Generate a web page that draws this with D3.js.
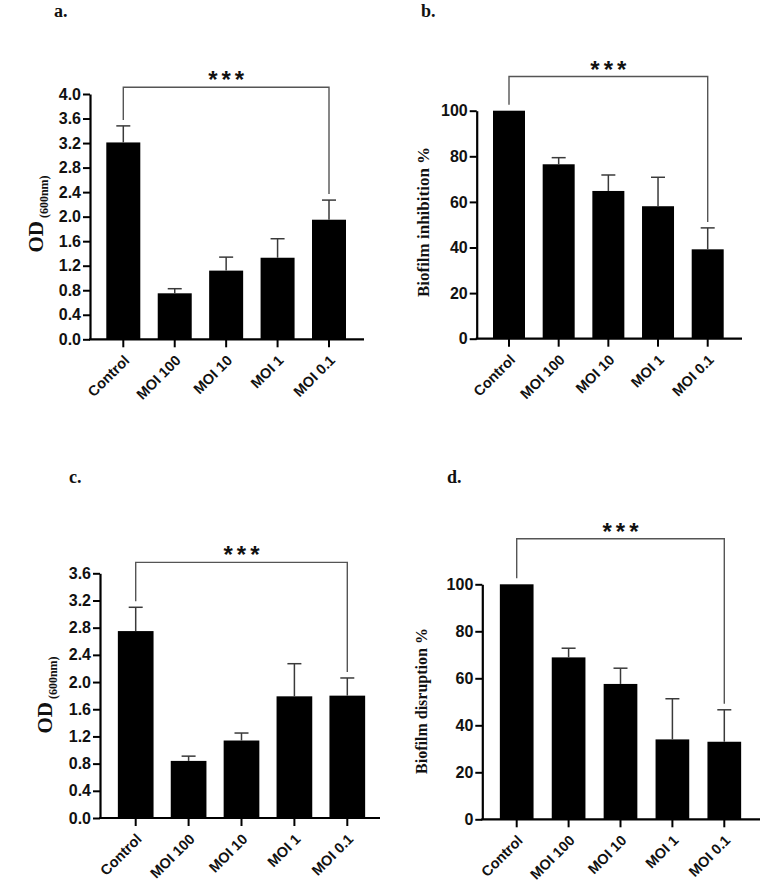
<!DOCTYPE html>
<html><head><meta charset="utf-8">
<script src="https://cdn.jsdelivr.net/npm/d3@7"></script>
<style>
html,body{margin:0;padding:0;background:#fff;}
svg{display:block;}
</style></head>
<body>
<script>
// ---------- DATA ----------
const categories = ["Control", "MOI 100", "MOI 10", "MOI 1", "MOI 0.1"];

// panel a: biofilm formation OD600
const aMeans = [3.21, 0.75, 1.12, 1.33, 1.95];
const aErrs  = [0.27, 0.075, 0.22, 0.31, 0.32];
const aTicks = [0, 0.4, 0.8, 1.2, 1.6, 2.0, 2.4, 2.8, 3.2, 3.6, 4.0];

// panel b: biofilm inhibition %
const bMeans = [100, 76.5, 64.8, 58.1, 39.2];
const bErrs  = [0, 2.9, 7.0, 12.7, 9.4];
const bTicks = [0, 20, 40, 60, 80, 100];

// panel c: biofilm OD600 (disruption)
const cMeans = [2.75, 0.84, 1.14, 1.79, 1.80];
const cErrs  = [0.35, 0.07, 0.11, 0.48, 0.26];
const cTicks = [0, 0.4, 0.8, 1.2, 1.6, 2.0, 2.4, 2.8, 3.2, 3.6];

// panel d: biofilm disruption %
const dMeans = [100, 68.9, 57.6, 34.0, 33.0];
const dErrs  = [0, 3.9, 6.7, 17.3, 13.6];
const dTicks = [0, 20, 40, 60, 80, 100];

const significance = "***";
const panelLabels = ["a.", "b.", "c.", "d."];

// ---------- DRAW ----------
const W = 764, H = 883;
const svg = d3.select("body").append("svg").attr("width", W).attr("height", H);

const SANS = "'Liberation Sans', Arial, sans-serif";
const SERIF = "'Liberation Serif', 'Times New Roman', serif";

function drawPanel(cfg) {
  const g = svg.append("g");
  const f = cfg.frame;
  const y = d3.scaleLinear().domain([0, d3.max(cfg.ticks)]).range([f.y0, f.yTop]);
  const step = (f.c4 - f.c0) / (categories.length - 1);
  const x = d3.scaleBand().domain(categories).range([f.c0 - step / 2, f.c4 + step / 2]);
  const cx = c => x(c) + x.bandwidth() / 2;

  const rows = categories.map((c, i) => ({c, m: cfg.means[i], e: cfg.errs[i]}));

  // bars
  g.selectAll("rect.bar").data(rows).join("rect")
    .attr("class", "bar")
    .attr("x", d => cx(d.c) - f.bw / 2)
    .attr("y", d => y(d.m))
    .attr("width", f.bw)
    .attr("height", d => f.y0 - y(d.m))
    .attr("fill", "#000");

  // error bars (upper only)
  const eb = g.selectAll("g.err").data(rows.filter(d => d.e > 0)).join("g").attr("class", "err")
    .attr("stroke", "#3a3a3a").attr("stroke-width", 1.5);
  eb.append("line").attr("x1", d => cx(d.c)).attr("x2", d => cx(d.c))
    .attr("y1", d => y(d.m)).attr("y2", d => y(d.m + d.e));
  eb.append("line").attr("x1", d => cx(d.c) - 7).attr("x2", d => cx(d.c) + 7)
    .attr("y1", d => y(d.m + d.e)).attr("y2", d => y(d.m + d.e));

  // y axis
  const ya = g.append("g").attr("transform", `translate(${f.ax},0)`)
    .call(d3.axisLeft(y).tickValues(cfg.ticks).tickFormat(cfg.fmt).tickSize(7).tickSizeOuter(0).tickPadding(2));
  ya.select(".domain").attr("stroke", "#000").attr("stroke-width", 2.2);
  ya.selectAll(".tick line").attr("stroke", "#000").attr("stroke-width", 2);
  ya.selectAll(".tick text").attr("font-family", SANS).attr("font-weight", "bold")
    .attr("font-size", 16).attr("fill", "#111");

  // x axis
  g.append("line").attr("x1", f.ax - 1).attr("x2", f.xEnd).attr("y1", f.y0).attr("y2", f.y0)
    .attr("stroke", "#000").attr("stroke-width", 2.2);
  const xa = g.append("g").attr("transform", `translate(0,${f.y0})`)
    .call(d3.axisBottom(x).tickSize(8).tickSizeOuter(0));
  xa.select(".domain").remove();
  xa.selectAll(".tick line").attr("stroke", "#000").attr("stroke-width", 2);
  xa.selectAll(".tick text")
    .attr("font-family", SANS).attr("font-weight", "bold").attr("font-size", 14.5).attr("fill", "#111")
    .attr("x", 0).attr("y", 0).attr("dy", 0)
    .attr("text-anchor", "end")
    .attr("transform", "translate(7,22) rotate(-45)");

  // significance bracket
  const x0 = cx(categories[0]), x4 = cx(categories[categories.length - 1]);
  const top0 = y(cfg.means[0] + cfg.errs[0]) - 6;
  const top4 = y(cfg.means[4] + cfg.errs[4]) - 6;
  const by = y(cfg.bracket);
  g.append("path").attr("d", `M${x0},${top0}V${by}H${x4}V${top4}`)
    .attr("fill", "none").attr("stroke", "#555").attr("stroke-width", 1.4);
  g.append("text").attr("x", (x0 + x4) / 2 + 2).attr("y", by + 1)
    .attr("text-anchor", "middle").attr("font-family", SANS).attr("font-weight", "bold")
    .attr("font-size", 24).attr("letter-spacing", 4).attr("fill", "#111").text(significance);

  // y title
  const t = g.append("text").attr("transform", `translate(${cfg.titleX},${cfg.titleY}) rotate(-90)`)
    .attr("text-anchor", "middle").attr("font-family", SERIF).attr("font-weight", "bold").attr("fill", "#111");
  if (cfg.titleSub) {
    t.append("tspan").attr("font-size", 21).text(cfg.title);
    t.append("tspan").attr("font-size", 12).attr("dy", 5).text(" " + cfg.titleSub);
  } else {
    t.attr("font-size", cfg.titleSize).text(cfg.title);
  }

  // panel label
  svg.append("text").attr("x", cfg.labelX).attr("y", cfg.labelY)
    .attr("font-family", SERIF).attr("font-weight", "bold").attr("font-size", 18).attr("fill", "#111")
    .text(cfg.label);
}

const fmt1 = d3.format(".1f");
const fmt0 = d3.format("d");

drawPanel({
  means: aMeans, errs: aErrs, ticks: aTicks, fmt: fmt1, bracket: 4.11,
  frame: {ax: 90, xEnd: 364, y0: 339.3, yTop: 94, c0: 123.3, c4: 329, bw: 34},
  title: "OD", titleSub: "(600nm)", titleX: 43, titleY: 214,
  label: panelLabels[0], labelX: 54, labelY: 17
});
drawPanel({
  means: bMeans, errs: bErrs, ticks: bTicks, fmt: fmt0, bracket: 115,
  frame: {ax: 476.7, xEnd: 742, y0: 338.7, yTop: 110.7, c0: 509, c4: 707.7, bw: 32},
  title: "Biofilm inhibition %", titleSize: 17, titleX: 429, titleY: 222,
  label: panelLabels[1], labelX: 421, labelY: 17
});
drawPanel({
  means: cMeans, errs: cErrs, ticks: cTicks, fmt: fmt1, bracket: 3.76,
  frame: {ax: 100, xEnd: 380, y0: 818, yTop: 573.3, c0: 135.7, c4: 347.3, bw: 35.7},
  title: "OD", titleSub: "(600nm)", titleX: 51.5, titleY: 695,
  label: panelLabels[2], labelX: 69, labelY: 483
});
drawPanel({
  means: dMeans, errs: dErrs, ticks: dTicks, fmt: fmt0, bracket: 119.4,
  frame: {ax: 482.3, xEnd: 760, y0: 819.3, yTop: 584.3, c0: 516.7, c4: 724.3, bw: 33.7},
  title: "Biofilm disruption %", titleSize: 16, titleX: 427, titleY: 701,
  label: panelLabels[3], labelX: 447, labelY: 483
});
</script>
</body></html>
